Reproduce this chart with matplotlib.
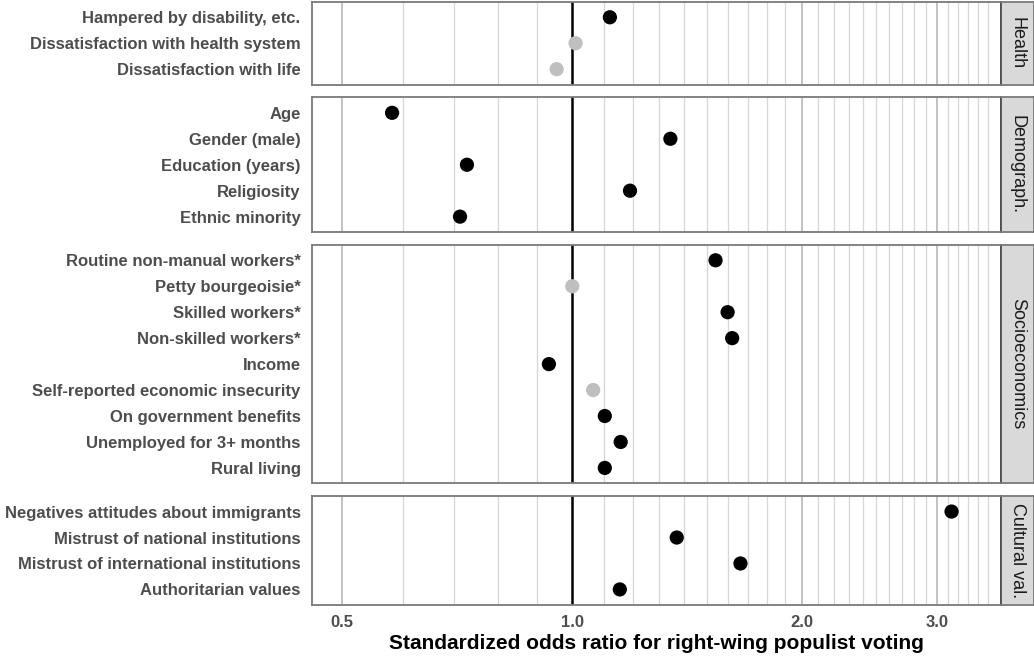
import numpy as np
import matplotlib
matplotlib.use("Agg")
import matplotlib.pyplot as plt

plt.rcParams['font.family'] = ['Liberation Sans', 'DejaVu Sans']

# ---------------- data ----------------
groups = ["Health", "Demograph.", "Socioeconomics", "Cultural val."]

health_labels = ["Hampered by disability, etc.",
                 "Dissatisfaction with health system",
                 "Dissatisfaction with life"]
health_or = [1.12, 1.01, 0.954]
health_sig = [True, False, False]

demo_labels = ["Age", "Gender (male)", "Education (years)",
               "Religiosity", "Ethnic minority"]
demo_or = [0.581, 1.344, 0.728, 1.19, 0.713]
demo_sig = [True, True, True, True, True]

socio_labels = ["Routine non-manual workers*", "Petty bourgeoisie*",
                "Skilled workers*", "Non-skilled workers*", "Income",
                "Self-reported economic insecurity", "On government benefits",
                "Unemployed for 3+ months", "Rural living"]
socio_or = [1.54, 1.0, 1.597, 1.619, 0.932, 1.065, 1.103, 1.157, 1.103]
socio_sig = [True, False, True, True, True, False, True, True, True]

cult_labels = ["Negatives attitudes about immigrants",
               "Mistrust of national institutions",
               "Mistrust of international institutions",
               "Authoritarian values"]
cult_or = [3.136, 1.37, 1.66, 1.154]
cult_sig = [True, True, True, True]

x_ticks = [0.5, 1.0, 2.0, 3.0]
x_ticklabels = ["0.5", "1.0", "2.0", "3.0"]
x_title = "Standardized odds ratio for right-wing populist voting"

panels = [
    (groups[0], health_labels, health_or, health_sig),
    (groups[1], demo_labels, demo_or, demo_sig),
    (groups[2], socio_labels, socio_or, socio_sig),
    (groups[3], cult_labels, cult_or, cult_sig),
]

# ---------------- layout ----------------
W, H = 1034, 656
fig = plt.figure(figsize=(W / 100, H / 100), dpi=100)

left_px, right_px = 311.7, 1001.0
strip_w_px = 33.0
top_px, bottom_px = 1.7, 605.0
gap_px = 12.5
expand = 0.6
units = [len(p[1]) - 1 + 2 * expand for p in panels]
u = (bottom_px - top_px - gap_px * (len(panels) - 1)) / sum(units)

minor_grid = np.round(np.concatenate([np.arange(0.5, 1.0, 0.1),
                                      np.arange(1.1, 2.0, 0.1),
                                      np.arange(2.1, 3.51, 0.1)]), 2)
major_grid = [0.5, 2.0, 3.0]

label_color = "#4d4d4d"
border_color = "#7a7a7a"

y_cur = top_px
for i, (grp, labels, ors, sig) in enumerate(panels):
    h = units[i] * u
    ax_b = 1 - (y_cur + h) / H
    ax = fig.add_axes([left_px / W, ax_b, (right_px - left_px) / W, h / H])
    ax.set_xscale('log')
    ax.set_xlim(0.456, 3.64)
    n = len(labels)
    ax.set_ylim(n - 1 + expand, -expand)
    for g in minor_grid:
        if g in major_grid:
            continue
        ax.axvline(g, color="#d6d6d6", lw=0.9, zorder=0)
    for g in major_grid:
        ax.axvline(g, color="#bdbdbd", lw=1.3, zorder=0)
    ax.axvline(1.0, color="black", lw=1.8, zorder=1)
    ypos = np.arange(n)
    cols = ["black" if s else "#bfbfbf" for s in sig]
    ax.scatter(ors, ypos, s=105, c=cols, zorder=3, linewidths=0)
    ax.set_yticks(ypos)
    ax.set_yticklabels(labels, fontsize=12, fontweight='bold', color=label_color)
    ax.minorticks_off()
    ax.tick_params(axis='both', length=0, pad=8)
    if i == len(panels) - 1:
        ax.set_xticks(x_ticks)
        ax.set_xticklabels(x_ticklabels, fontsize=12, fontweight='bold', color=label_color)
        ax.tick_params(axis='x', pad=7)
        ax.set_xlabel(x_title, fontsize=15, fontweight='bold', color='black', labelpad=3)
    else:
        ax.set_xticks([])
    for sp in ax.spines.values():
        sp.set_color(border_color)
        sp.set_linewidth(1.3)

    # strip
    sax = fig.add_axes([right_px / W, ax_b, strip_w_px / W, h / H])
    sax.set_facecolor("#d9d9d9")
    sax.set_xticks([])
    sax.set_yticks([])
    for sp in sax.spines.values():
        sp.set_color(border_color)
        sp.set_linewidth(1.3)
    sax.spines['left'].set_color("#4d4d4d")
    sax.text(0.5, 0.5, grp, rotation=270, ha='center', va='center',
             fontsize=13, color="#1a1a1a", transform=sax.transAxes)

    y_cur += h + gap_px

fig.savefig("out.png", dpi=100)
